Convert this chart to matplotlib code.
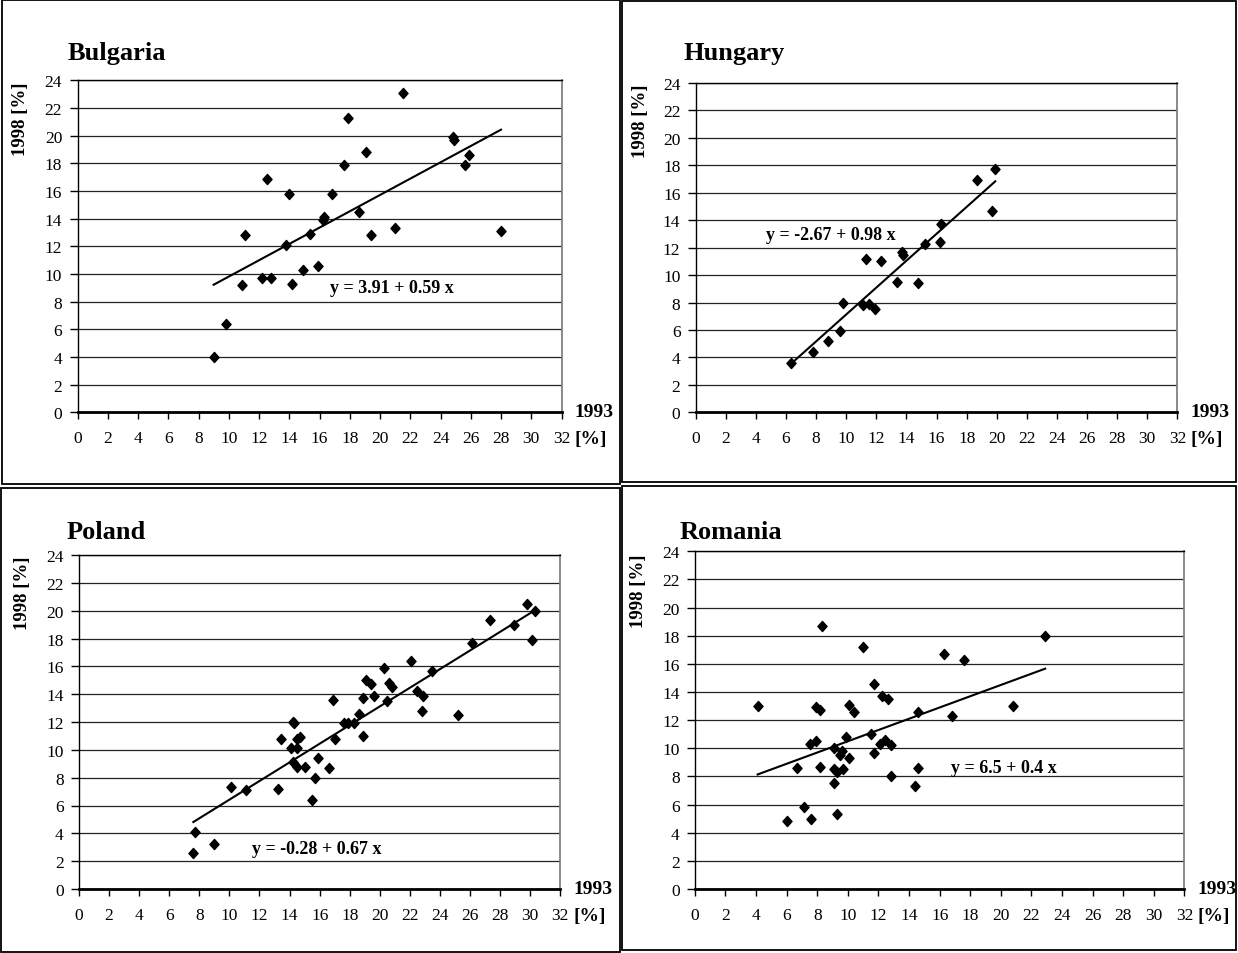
import matplotlib
matplotlib.use('Agg')
import matplotlib.pyplot as plt
from matplotlib.patches import Rectangle
from matplotlib.path import Path

plt.rcParams['font.family'] = ['Liberation Serif', 'DejaVu Serif']

W, H, DPI = 1238, 954, 100

# ---------------- data ----------------
countries = ['Bulgaria', 'Hungary', 'Poland', 'Romania']

bulgaria_x = [9.0, 9.8, 10.9, 11.1, 12.2, 12.8, 12.5, 13.8, 14.0, 14.2, 14.9, 15.4, 15.9, 16.2,
              16.3, 16.8, 17.6, 17.9, 18.6, 19.1, 19.4, 21.0, 21.5, 24.8, 24.9, 25.6, 25.9, 28.0]
bulgaria_y = [4.0, 6.4, 9.2, 12.8, 9.7, 9.7, 16.9, 12.1, 15.8, 9.3, 10.3, 12.9, 10.6, 13.9,
              14.1, 15.8, 17.9, 21.3, 14.5, 18.8, 12.8, 13.3, 23.1, 19.9, 19.7, 17.9, 18.6, 13.1]

hungary_x = [6.3, 7.8, 8.8, 9.6, 9.8, 11.1, 11.3, 11.5, 11.9, 12.3, 13.4, 13.7, 13.8, 14.8,
             15.2, 16.2, 16.3, 18.7, 19.7, 19.9]
hungary_y = [3.6, 4.4, 5.2, 5.9, 8.0, 7.8, 11.2, 7.9, 7.5, 11.0, 9.5, 11.7, 11.5, 9.4,
             12.3, 12.4, 13.7, 16.9, 14.7, 17.7]

poland_x = [7.6, 7.7, 9.0, 10.1, 11.1, 13.2, 13.4, 14.1, 14.2, 14.3, 14.2, 14.5, 14.5, 14.5,
            14.7, 15.0, 15.5, 15.7, 15.9, 16.6, 16.9, 17.0, 17.6, 17.9, 18.3, 18.6, 18.9, 18.9,
            19.1, 19.4, 19.6, 20.3, 20.5, 20.6, 20.8, 22.1, 22.5, 22.8, 22.9, 23.5, 25.2, 26.1,
            27.3, 28.9, 29.8, 30.1, 30.3]
poland_y = [2.6, 4.1, 3.2, 7.3, 7.1, 7.2, 10.8, 10.1, 12.0, 11.9, 9.1, 8.8, 10.1, 10.8,
            10.9, 8.8, 6.4, 8.0, 9.4, 8.7, 13.6, 10.8, 11.9, 11.9, 11.9, 12.6, 11.0, 13.7,
            15.0, 14.7, 13.9, 15.9, 13.5, 14.8, 14.5, 16.4, 14.2, 12.8, 13.9, 15.7, 12.5, 17.7,
            19.3, 19.0, 20.5, 17.9, 20.0]

romania_x = [4.1, 6.0, 6.7, 7.1, 7.5, 7.6, 7.9, 7.9, 8.2, 8.2, 8.3, 9.1, 9.1, 9.1, 9.3, 9.3,
             9.5, 9.6, 9.7, 9.9, 10.1, 10.1, 10.4, 11.0, 11.5, 11.7, 11.7, 12.1, 12.2, 12.4,
             12.6, 12.8, 12.8, 14.4, 14.6, 14.6, 16.3, 16.8, 17.6, 20.8, 22.9]
romania_y = [13.0, 4.8, 8.6, 5.8, 10.3, 5.0, 12.9, 10.5, 12.7, 8.7, 18.7, 7.5, 10.0, 8.5, 5.3, 8.3,
             9.5, 9.8, 8.5, 10.8, 13.1, 9.3, 12.6, 17.2, 11.0, 14.6, 9.7, 10.3, 13.7, 10.6,
             13.5, 10.2, 8.0, 7.3, 12.6, 8.6, 16.7, 12.3, 16.3, 13.0, 18.0]

intercepts = [3.91, -2.67, -0.28, 6.5]
slopes = [0.59, 0.98, 0.67, 0.4]
equations = ['y = 3.91 + 0.59 x', 'y = -2.67 + 0.98 x', 'y = -0.28 + 0.67 x', 'y = 6.5 + 0.4 x']

x_ticks = list(range(0, 33, 2))
y_ticks = list(range(0, 25, 2))

series_x = [bulgaria_x, hungary_x, poland_x, romania_x]
series_y = [bulgaria_y, hungary_y, poland_y, romania_y]

# ---------------- layout (pixels) ----------------
axes_px = [(77.5, 81.3, 561.5, 413.3),
           (695.7, 84.0, 1177.4, 413.3),
           (79.0, 556.0, 560.3, 890.0),
           (694.9, 552.3, 1184.4, 890.0)]
border_px = [(2, 1, 620, 485),
             (622, 2, 1236, 483),
             (1, 489, 620, 953),
             (622, 487, 1236, 951)]
title_px = [(68, 60), (684, 60), (67, 539), (680, 539)]
ylabel_px = [(20, 82), (640, 85), (22, 557), (638, 555)]
eq_pos = [(16.7, 9.0), (4.7, 12.95), (11.5, 2.9), (16.75, 8.65)]

diamond = Path([(0, 1), (0.9, 0), (0, -1), (-0.9, 0), (0, 1)],
               [Path.MOVETO, Path.LINETO, Path.LINETO, Path.LINETO, Path.CLOSEPOLY])

fig = plt.figure(figsize=(W / DPI, H / DPI), dpi=DPI)


def fx(px):
    return px / W


def fy(py):
    return 1 - py / H


for i, name in enumerate(countries):
    l, t, r, b = axes_px[i]
    ax = fig.add_axes([fx(l), fy(b), (r - l) / W, (b - t) / H])
    ax.set_xlim(0, 32)
    ax.set_ylim(0, 24)
    ax.set_xticks(x_ticks)
    ax.set_yticks(y_ticks)
    ax.grid(axis='y', color='#222222', lw=0.9)
    ax.set_axisbelow(True)
    for s in ['left', 'top']:
        ax.spines[s].set_color('black')
        ax.spines[s].set_linewidth(1.0)
    ax.spines['right'].set_color('#808080')
    ax.spines['right'].set_linewidth(1.3)
    ax.spines['bottom'].set_color('black')
    ax.spines['bottom'].set_linewidth(2.0)
    ax.tick_params(axis='x', direction='out', length=5, width=1, pad=8, labelsize=12.5)
    ax.tick_params(axis='y', direction='out', length=6, width=1, pad=5, labelsize=12.5)

    xs, ys = series_x[i], series_y[i]
    ax.plot(xs, ys, linestyle='none', marker=diamond, markersize=7.3,
            color='black', zorder=3, clip_on=False)
    x0, x1 = min(xs), max(xs)
    ax.plot([x0, x1], [intercepts[i] + slopes[i] * x0, intercepts[i] + slopes[i] * x1],
            color='black', lw=1.5, zorder=4)
    ax.text(eq_pos[i][0], eq_pos[i][1], equations[i], fontsize=13, fontweight='bold',
            ha='left', va='center', zorder=5)

    ax.annotate('1993', xy=(1, 0), xycoords='axes fraction', xytext=(13, 1),
                textcoords='offset pixels', ha='left', va='center',
                fontsize=14, fontweight='bold')
    ax.annotate('[%]', xy=(1, 0), xycoords='axes fraction', xytext=(13, -26),
                textcoords='offset pixels', ha='left', va='center',
                fontsize=14, fontweight='bold')

    tx, ty = title_px[i]
    fig.text(fx(tx), fy(ty), name, fontsize=19, fontweight='bold', ha='left', va='baseline')
    yx, yy = ylabel_px[i]
    fig.text(fx(yx), fy(yy), '1998 [%]', fontsize=13.5, fontweight='bold',
             rotation=90, ha='center', va='top')

    bl, bt, br, bb = border_px[i]
    fig.patches.append(Rectangle((fx(bl), fy(bb)), (br - bl) / W, (bb - bt) / H,
                                 transform=fig.transFigure, fill=False,
                                 edgecolor='black', lw=1.3))

fig.savefig('out.png', dpi=DPI, facecolor='white')
